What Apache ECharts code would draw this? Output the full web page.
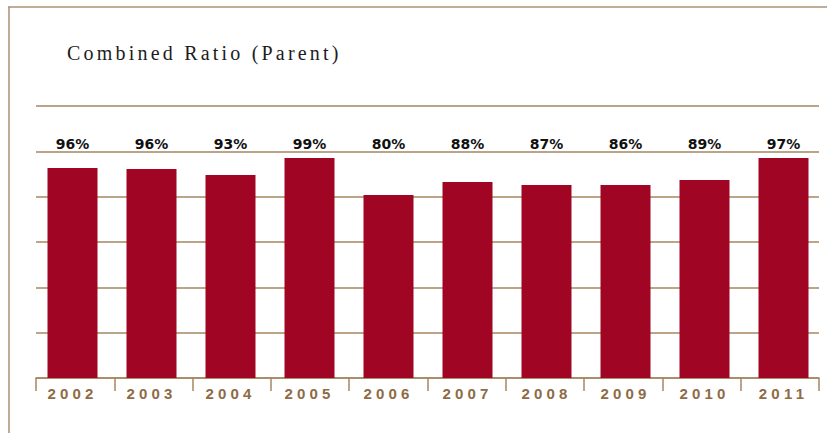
<!DOCTYPE html>
<html>
<head>
<meta charset="utf-8">
<script src="https://cdn.jsdelivr.net/npm/echarts@6/dist/echarts.min.js"></script>
<style>
  html, body { margin: 0; padding: 0; background: #ffffff; }
  #chart { width: 827px; height: 433px; }
  #chart text[style*="Liberation Serif"] { letter-spacing: 3.2px; }
  #chart text[style*="Liberation Sans"] { letter-spacing: 4.2px; }
</style>
</head>
<body>
<div id="chart"></div>
<script>
// ---- data ----
const years = ['2002', '2003', '2004', '2005', '2006', '2007', '2008', '2009', '2010', '2011'];
// bar heights as drawn in the picture (percent scale)
const barValues = [92.6, 92.2, 89.6, 97.1, 80.7, 86.5, 85.1, 85.1, 87.4, 97.1];
// printed combined ratio labels
const ratioLabels = [96, 96, 93, 99, 80, 88, 87, 86, 89, 97];
const yTicks = [0, 20, 40, 60, 80, 100, 120];

const lineColor = '#a4865f';
const barColor = '#a00623';
const yearColor = '#8e6b45';

const chart = echarts.init(document.getElementById('chart'), null, { renderer: 'svg' });

chart.setOption({
  animation: false,
  backgroundColor: '#ffffff',
  title: {
    text: 'Combined Ratio (Parent)',
    left: 62,
    top: 38,
    textStyle: {
      fontFamily: 'Liberation Serif',
      fontWeight: 'normal',
      fontSize: 20,
      color: '#1c1c1c'
    }
  },
  graphic: [
    { type: 'line', shape: { x1: 8, y1: 7, x2: 827, y2: 7 }, style: { stroke: '#ab9276', lineWidth: 1.5 } },
    { type: 'line', shape: { x1: 9, y1: 7, x2: 9, y2: 433 }, style: { stroke: '#ab9276', lineWidth: 1.5 } }
  ],
  grid: [
    { left: 36, right: 8, top: 106, bottom: 55 },
    { left: 33, right: 4, top: 106, bottom: 55 }
  ],
  xAxis: [
    {
      type: 'category', gridIndex: 0, data: years,
      axisLine: { show: true, lineStyle: { color: lineColor, width: 1.5 } },
      axisTick: { show: true, length: 13, lineStyle: { color: lineColor, width: 1.5 } },
      axisLabel: { show: false },
      splitLine: { show: false }
    },
    {
      type: 'category', gridIndex: 1, data: years,
      axisLine: { show: false }, axisTick: { show: false },
      axisLabel: {
        show: true, margin: 8,
        fontFamily: 'Liberation Sans', fontWeight: 'bold', fontSize: 15, color: yearColor
      }
    },
    {
      type: 'category', gridIndex: 1, position: 'top', data: ratioLabels,
      axisLine: { show: false }, axisTick: { show: false },
      axisLabel: {
        show: true, inside: true, margin: 31,
        formatter: v => v + '%',
        fontFamily: 'DejaVu Sans', fontWeight: 'bold', fontSize: 14, color: '#111111'
      }
    }
  ],
  yAxis: [
    {
      type: 'value', gridIndex: 0, min: yTicks[0], max: yTicks[yTicks.length - 1], interval: 20,
      axisLine: { show: false }, axisTick: { show: false }, axisLabel: { show: false },
      splitLine: { show: true, lineStyle: { color: lineColor, width: 1.5 } }
    },
    {
      type: 'value', gridIndex: 1, min: yTicks[0], max: yTicks[yTicks.length - 1], interval: 20,
      show: false, splitLine: { show: false }
    }
  ],
  series: [
    {
      type: 'bar', xAxisIndex: 1, yAxisIndex: 1,
      data: barValues, barWidth: 50,
      itemStyle: { color: barColor },
      silent: true
    }
  ]
});
</script>
</body>
</html>
